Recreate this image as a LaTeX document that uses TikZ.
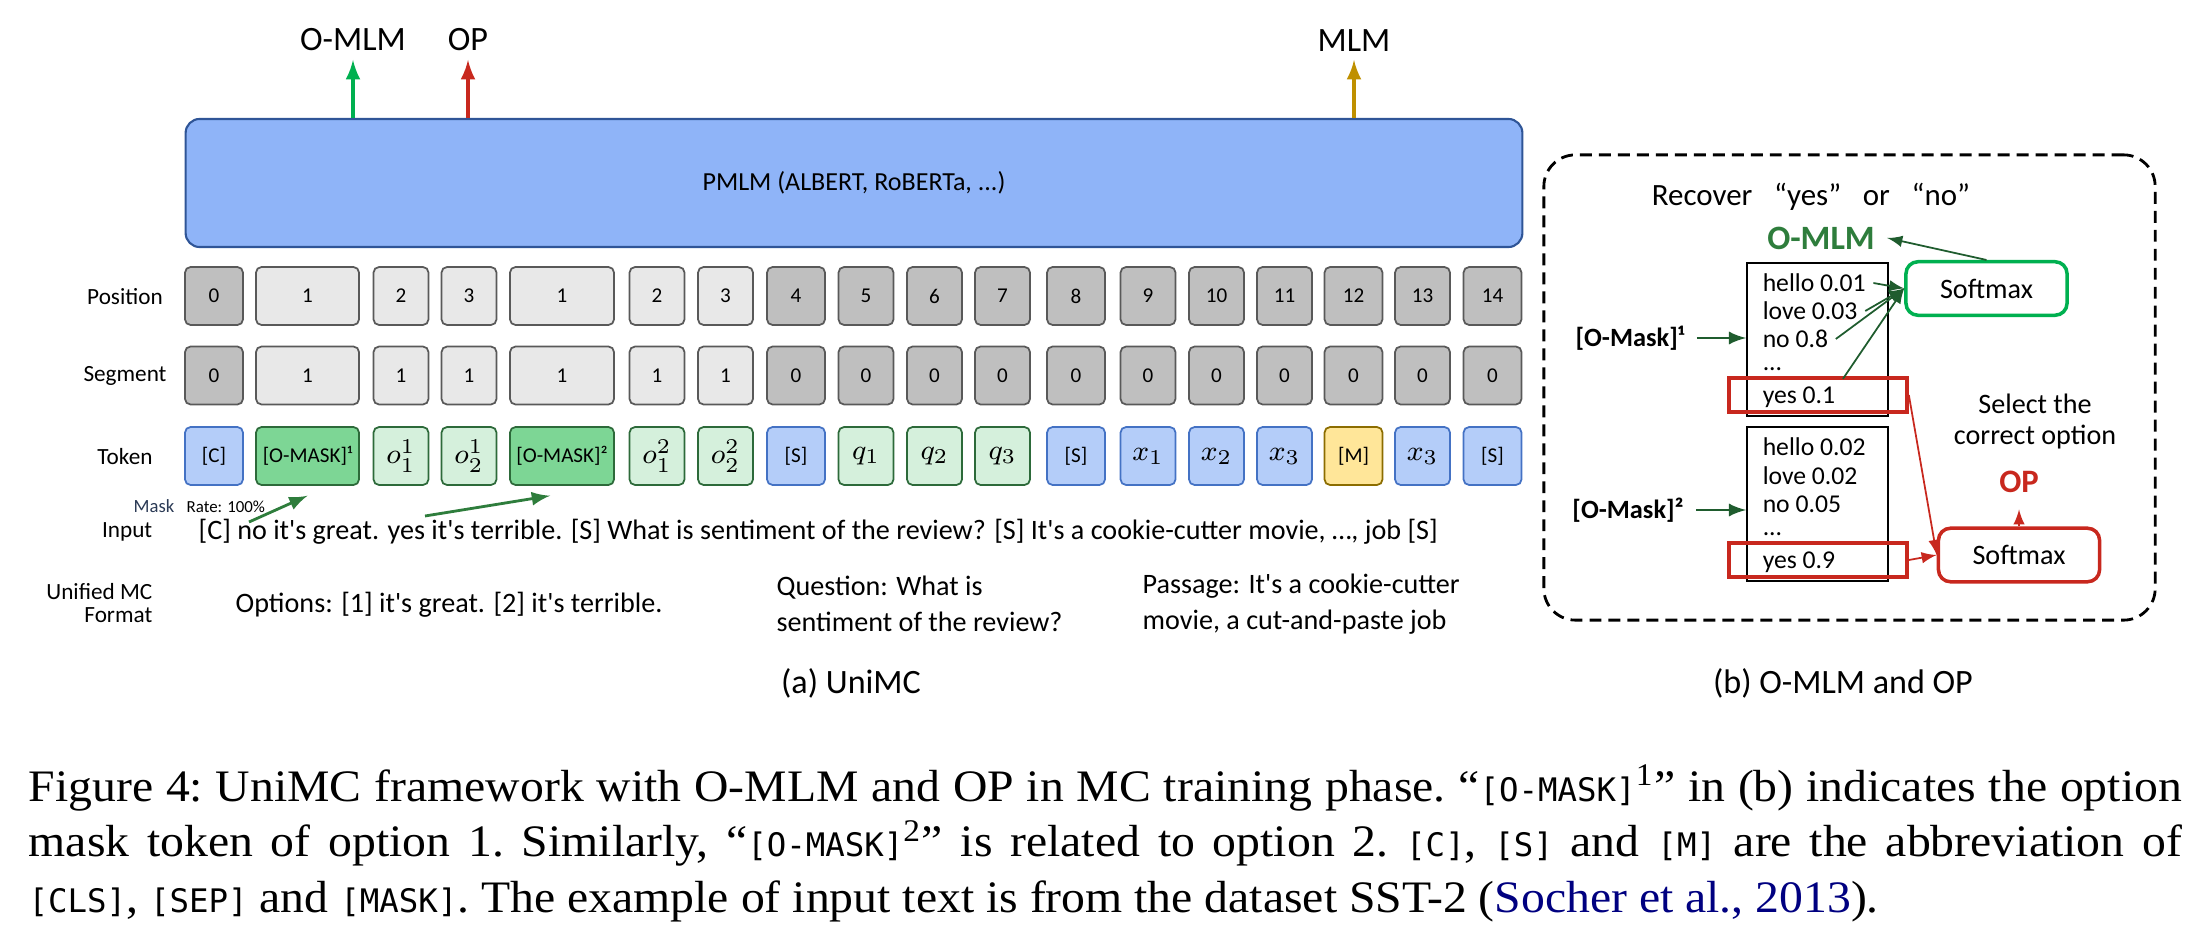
\documentclass[tikz,border=0pt]{standalone}
\usepackage{fontspec}
\setmainfont{Carlito}[Ligatures=TeXOff]
\newfontfamily\capfont[FakeStretch=1.06]{Liberation Serif}
\newfontfamily\capmono[Scale=0.72]{DejaVu Sans Mono}
\usetikzlibrary{arrows}

\definecolor{pmlmfill}{HTML}{8FB4F8}
\definecolor{pmlmline}{HTML}{2F5597}
\definecolor{celldark}{HTML}{BFBFBF}
\definecolor{celllight}{HTML}{E8E8E8}
\definecolor{cellline}{HTML}{595959}
\definecolor{tokblue}{HTML}{B4CDF9}
\definecolor{tokblueline}{HTML}{4472C4}
\definecolor{tokgreen}{HTML}{7DD695}
\definecolor{toklgreen}{HTML}{D5F0DC}
\definecolor{tokgreenline}{HTML}{2D6A3A}
\definecolor{tokyellow}{HTML}{FFE699}
\definecolor{tokyellowline}{HTML}{8C6D00}
\definecolor{arrgreen}{HTML}{00B050}
\definecolor{arrred}{HTML}{C8281E}
\definecolor{arrgold}{HTML}{BF9000}
\definecolor{darkgreen}{HTML}{1F5C2E}
\definecolor{omlmgreen}{HTML}{2E7D3C}
\definecolor{citeblue}{HTML}{000080}
\definecolor{maskcol}{HTML}{2B3A55}

\newcommand{\tokm}[1]{{\fontsize{8.5}{10}\selectfont$#1$}}

\tikzset{
  rowlbl/.style={font=\fontsize{6.6}{8}\selectfont},
  cell/.style={draw=cellline, rounded corners=1.6pt, minimum height=0.58cm,
    inner sep=0pt, line width=0.5pt, font=\fontsize{6}{7}\selectfont},
  toplbl/.style={anchor=south, inner ysep=2.3pt, font=\fontsize{9.7}{11}\selectfont},
  bodytxt/.style={font=\fontsize{8}{10.2}\selectfont, align=left, inner sep=0pt},
  subcap/.style={font=\fontsize{9.7}{11}\selectfont},
  entry/.style={anchor=west, inner sep=2pt, font=\fontsize{7.3}{8}\selectfont},
  listbox/.style={draw, line width=0.5pt, minimum width=1.41cm},
  selbox/.style={draw=arrred, line width=1pt, minimum width=1.78cm, minimum height=0.34cm},
  softbox/.style={rounded corners=3.4pt, line width=1pt, minimum width=1.61cm,
    minimum height=0.535cm, font=\fontsize{8}{9}\selectfont},
  parr/.style={->, darkgreen, line width=0.5pt},
  rarr/.style={->, arrred, line width=0.5pt},
}

\begin{document}
\begin{tikzpicture}[x=0.01cm, y=-0.01cm, >=latex]
    \useasboundingbox (0,0) rectangle (2210,943);

    % encoder
    \node[draw=pmlmline, fill=pmlmfill, line width=0.6pt, rounded corners=4pt,
      minimum width=13.36cm, minimum height=1.28cm, font=\fontsize{7.4}{9}\selectfont]
      (pmlm) at (854,183) {PMLM (ALBERT, RoBERTa, ...)};

    \node[toplbl] (omlm) at (353,60) {O-MLM};
    \node[toplbl] (op) at (468,60) {OP};
    \node[toplbl] (mlm) at (1354,60) {MLM};
    \draw[->, arrgreen, line width=0.9pt] (pmlm.north -| omlm.south) -- (omlm.south);
    \draw[->, arrred, line width=0.9pt] (pmlm.north -| op.south) -- (op.south);
    \draw[->, arrgold, line width=0.9pt] (pmlm.north -| mlm.south) -- (mlm.south);

    % rows
    \node[rowlbl] (lpos) at (125,297) {Position};
    \node[rowlbl] (lseg) at (125,376) {Segment};
    \node[rowlbl] (ltok) at (125,457) {Token};

    \foreach \i/\cx/\w/\pc/\pv/\sv/\tf/\td/\tv in {
        0/214/0.58/celldark/0/0/tokblue/tokblueline/{[C]},
        1/307.5/1.03/celllight/1/1/tokgreen/tokgreenline/{[O-MASK]¹},
        2/401/0.55/celllight/2/1/toklgreen/tokgreenline/{\tokm{o_1^1}},
        3/469/0.55/celllight/3/1/toklgreen/tokgreenline/{\tokm{o_2^1}},
        4/562/1.04/celllight/1/1/tokgreen/tokgreenline/{[O-MASK]²},
        5/657/0.55/celllight/2/1/toklgreen/tokgreenline/{\tokm{o_1^2}},
        6/725.5/0.55/celllight/3/1/toklgreen/tokgreenline/{\tokm{o_2^2}},
        7/796/0.58/celldark/4/0/tokblue/tokblueline/{[S]},
        8/866/0.55/celldark/5/0/toklgreen/tokgreenline/{\tokm{q_1}},
        9/934.5/0.55/celldark/6/0/toklgreen/tokgreenline/{\tokm{q_2}},
        10/1002.5/0.55/celldark/7/0/toklgreen/tokgreenline/{\tokm{q_3}},
        11/1076/0.58/celldark/8/0/tokblue/tokblueline/{[S]},
        12/1148/0.55/celldark/9/0/tokblue/tokblueline/{\tokm{x_1}},
        13/1216.5/0.55/celldark/10/0/tokblue/tokblueline/{\tokm{x_2}},
        14/1284.5/0.55/celldark/11/0/tokblue/tokblueline/{\tokm{x_3}},
        15/1353.5/0.58/celldark/12/0/tokyellow/tokyellowline/{[M]},
        16/1422.5/0.55/celldark/13/0/tokblue/tokblueline/{\tokm{x_3}},
        17/1492.5/0.58/celldark/14/0/tokblue/tokblueline/{[S]}}
    {
        \node[cell, fill=\pc, minimum width=\w cm] (p\i) at (\cx,296) {\pv};
        \node[cell, fill=\pc, minimum width=\w cm] (s\i) at (\cx,375.5) {\sv};
        \node[cell, fill=\tf, draw=\td, minimum width=\w cm] (t\i) at (\cx,456) {\tv};
    }

    % input
    \node[anchor=east, inner sep=0pt, maskcol, font=\fontsize{5.3}{6}\selectfont] (lmask) at (175,506) {Mask};
    \node[anchor=west, inner sep=0pt, font=\fontsize{4.8}{6}\selectfont] (lrate) at (186,507) {Rate: 100\%};
    \node[anchor=east, inner sep=0pt, rowlbl] (linput) at (153,532) {Input};
    \node[bodytxt, anchor=west] (sent) at (198,532)
      {[C] no it's great. yes it's terrible. [S] What is sentiment of the review? [S] It's a cookie-cutter movie, …, job [S]};
    \coordinate (noword) at (249,522);
    \coordinate (yesword) at (425,516);
    \draw[->, omlmgreen, line width=0.8pt] (noword) -- ([yshift=-2.8pt]t1.south);
    \draw[->, omlmgreen, line width=0.8pt] (yesword) -- ([xshift=-3.4pt,yshift=-2.8pt]t4.south);

    \node[anchor=east, inner sep=0pt, align=right, font=\fontsize{6.6}{6.5}\selectfont] (lformat) at (153,603) {Unified MC\\Format};
    \node[bodytxt, anchor=west] (options) at (235,605) {Options: [1] it's great. [2] it's terrible.};
    \node[bodytxt, anchor=west] (question) at (776,604) {Question: What is\\sentiment of the review?};
    \node[bodytxt, anchor=west] (passage) at (1142,604) {Passage: It's a cookie-cutter\\movie, a cut-and-paste job};

    \node[subcap] (capa) at (851,683) {(a) UniMC};

    % O-MLM and OP
    \node[draw, line width=0.8pt, dash pattern=on 3.4pt off 2pt, rounded corners=9pt,
      minimum width=6.11cm, minimum height=4.65cm] (panel) at (1849.5,387.5) {};
    \node[font=\fontsize{8.8}{10}\selectfont] (recover) at (1811,197)
      {Recover\hspace{0.7em}“yes”\hspace{0.7em}or\hspace{0.7em}“no”};
    \node[omlmgreen, font=\fontsize{9.7}{11}\selectfont\bfseries] (omlmb) at (1821,238) {O-MLM};

    \node[listbox, minimum height=1.53cm] (lista) at (1817.5,339.5) {};
    \node[listbox, minimum height=1.54cm] (listb) at (1817.5,504) {};
    \node[entry] (ha) at (1755,283) {hello 0.01};
    \node[entry] (la) at (1755,311) {love 0.03};
    \node[entry] (na) at (1755,339) {no 0.8};
    \node[entry] (da) at (1755,369) {...};
    \node[entry] (ya) at (1755,397) {yes 0.1};
    \node[entry] (hb) at (1755,447) {hello 0.02};
    \node[entry] (lb) at (1755,476) {love 0.02};
    \node[entry] (nb) at (1755,504) {no 0.05};
    \node[entry] (db) at (1755,534) {...};
    \node[entry] (yb) at (1755,562) {yes 0.9};
    \node[selbox] (sela) at (1818,395) {};
    \node[selbox] (selb) at (1818,560) {};

    \node[softbox, draw=arrgreen] (sma) at (1986.5,288.5) {Softmax};
    \node[softbox, draw=arrred] (smb) at (2019,555) {Softmax};
    \node[font=\fontsize{8}{8.8}\selectfont, align=center] (seltxt) at (2035,421.5) {Select the\\correct option};
    \node[arrred, inner ysep=4.5pt, font=\fontsize{9.3}{11}\selectfont\bfseries] (opb) at (2019,482) {OP};

    \node[font=\fontsize{7.5}{9}\selectfont\bfseries] (mka) at (1630,338) {[O-Mask]¹};
    \node[font=\fontsize{7.5}{9}\selectfont\bfseries] (mkb) at (1628,510) {[O-Mask]²};
    \draw[parr, line width=0.7pt] (mka.east) -- (lista.west |- mka.east);
    \draw[parr, line width=0.7pt] (mkb.east) -- (listb.west |- mkb.east);

    \foreach \e in {ha.east, la.east, na.east, ya.north east}
        \draw[parr] (\e) -- (sma.west);
    \draw[parr] (sma.north) -- (omlmb.east);
    \draw[rarr] (sela.east) -- (smb.west);
    \draw[rarr] (selb.east) -- (smb.west);
    \draw[rarr] (smb.north) -- (opb.south);

    \node[subcap] (capb) at (1843,683) {(b) O-MLM and OP};

    % caption
    \node[anchor=base west, inner sep=0pt, text width=21.52cm, align=justify,
      font=\capfont\fontsize{12.8}{15.9}\selectfont\frenchspacing] (figcap) at (28,801)
      {Figure 4: UniMC framework with O-MLM and OP in MC training phase. “{\capmono[O-MASK]}\textsuperscript{1}” in (b) indicates the option\linebreak
       mask token of option 1. Similarly, “{\capmono[O-MASK]}\textsuperscript{2}” is related to option 2. {\capmono[C]}, {\capmono[S]} and {\capmono[M]} are the abbreviation of\linebreak
       {\capmono[CLS]}, {\capmono[SEP]} and {\capmono[MASK]}. The example of input text is from the dataset SST-2 ({\color{citeblue}Socher et al., 2013}).};
\end{tikzpicture}
\end{document}
